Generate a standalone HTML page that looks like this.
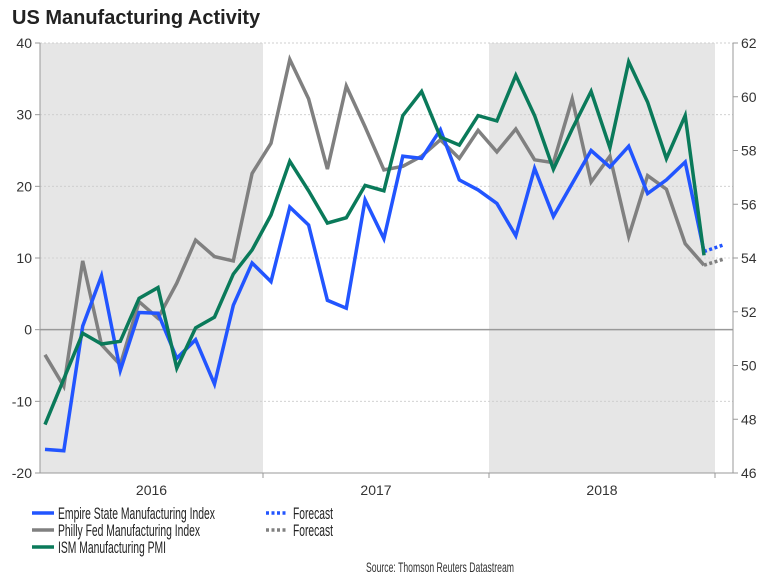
<!DOCTYPE html>
<html><head><meta charset="utf-8"><style>
body{margin:0;background:#fff;}
svg{display:block;font-family:"Liberation Sans",Arial,sans-serif;}
</style></head><body>
<svg id="c" width="768" height="576" viewBox="0 0 768 576">
<text x="12" y="24" font-size="20" font-weight="bold" fill="#222">US Manufacturing Activity</text>
<g id="bands"></g><g id="grid"></g><g id="axes"></g><g id="series"></g>
<g>
<line x1="32" y1="513" x2="54" y2="513" stroke="#2255ff" stroke-width="3.5"/>
<text x="58" y="519" font-size="17" fill="#222" textLength="157" lengthAdjust="spacingAndGlyphs">Empire State Manufacturing Index</text>
<line x1="32" y1="530" x2="54" y2="530" stroke="#808080" stroke-width="3.5"/>
<text x="58" y="536" font-size="17" fill="#222" textLength="142" lengthAdjust="spacingAndGlyphs">Philly Fed Manufacturing Index</text>
<line x1="32" y1="547" x2="54" y2="547" stroke="#0a7a5a" stroke-width="3.5"/>
<text x="58" y="553" font-size="17" fill="#222" textLength="108" lengthAdjust="spacingAndGlyphs">ISM Manufacturing PMI</text>
<line x1="266" y1="513" x2="288" y2="513" stroke="#2255ff" stroke-width="3.5" stroke-dasharray="3,2.5"/>
<text x="293" y="519" font-size="17" fill="#222" textLength="40" lengthAdjust="spacingAndGlyphs">Forecast</text>
<line x1="266" y1="530" x2="288" y2="530" stroke="#808080" stroke-width="3.5" stroke-dasharray="3,2.5"/>
<text x="293" y="536" font-size="17" fill="#222" textLength="40" lengthAdjust="spacingAndGlyphs">Forecast</text>
</g>
<text x="514" y="572" font-size="14" fill="#333" text-anchor="end" textLength="148" lengthAdjust="spacingAndGlyphs">Source: Thomson Reuters Datastream</text>
</svg>
<script>
const empire=[-16.7,-16.9,0.5,7.5,-5.7,2.4,2.3,-4.0,-1.4,-7.6,3.4,9.3,6.7,17.1,14.6,4.1,3.0,18.1,12.7,24.2,23.9,27.9,20.9,19.5,17.6,13.1,22.5,15.8,20.4,25.0,22.7,25.6,19.0,20.9,23.4,10.9];
const philly=[-3.5,-7.9,9.6,-2.1,-4.9,3.9,1.6,6.5,12.5,10.2,9.6,21.8,26.0,37.7,32.2,22.4,34.0,28.3,22.3,22.8,24.2,26.5,23.9,27.8,24.8,28.0,23.7,23.3,32.2,20.6,24.2,13.0,21.5,19.6,12.0,9.0];
const ism=[47.8,49.5,51.2,50.8,50.9,52.5,52.9,49.9,51.4,51.8,53.4,54.3,55.6,57.6,56.5,55.3,55.5,56.7,56.5,59.3,60.2,58.5,58.2,59.3,59.1,60.8,59.3,57.3,58.8,60.2,58.1,61.3,59.8,57.7,59.3,54.1];
const empireForecast=[10.9,11.8];
const phillyForecast=[9.0,9.8];
const leftTicks=[-20,-10,0,10,20,30,40];
const rightTicks=[46,48,50,52,54,56,58,60,62];
const years=["2016","2017","2018"];
const NS="http://www.w3.org/2000/svg";
const X0=40,X1=733,Y0=43,Y1=473;
const xm=i=>45+i*18.83;
const yl=v=>Y1-(v+20)/60*(Y1-Y0);
const yr=v=>Y1-(v-46)/16*(Y1-Y0);
function mk(p,t,a){const e=document.createElementNS(NS,t);for(const k in a)e.setAttribute(k,a[k]);document.getElementById(p).appendChild(e);return e;}
const yb=i=>i===0?40:37+i*226;
years.forEach((y,i)=>{
  if(i!==1){const r=mk('bands','rect',{x:yb(i),y:Y0,width:yb(i+1)-yb(i),height:Y1-Y0,fill:'#e6e6e6'});
  
  }
  const t=mk('axes','text',{x:(yb(i)+yb(i+1))/2,y:495,'font-size':14,fill:'#333','text-anchor':'middle'});t.textContent=y;
  
  
});
[1,2,3].forEach(i=>{mk('axes','line',{x1:yb(i),y1:Y1,x2:yb(i),y2:Y1+5,stroke:'#999'});});
leftTicks.forEach(v=>{
  if(v!==0&&v!==-20)mk('grid','line',{x1:X0,y1:yl(v),x2:X1,y2:yl(v),stroke:'#ccc','stroke-dasharray':'2,2','stroke-width':0.8});
  mk('axes','line',{x1:X0-5,y1:yl(v),x2:X0,y2:yl(v),stroke:'#999'});
  const t=mk('axes','text',{x:X0-8,y:yl(v)+5,'font-size':14,fill:'#333','text-anchor':'end'});t.textContent=v;
  
  
});
rightTicks.forEach(v=>{
  mk('axes','line',{x1:X1,y1:yr(v),x2:X1+5,y2:yr(v),stroke:'#999'});
  const t=mk('axes','text',{x:X1+8,y:yr(v)+5,'font-size':14,fill:'#333'});t.textContent=v;
  
  
});
mk('grid','line',{x1:X0,y1:Y0,x2:X1,y2:Y0,stroke:'#ccc','stroke-dasharray':'2,2','stroke-width':0.8});
mk('axes','line',{x1:X0,y1:yl(0),x2:X1,y2:yl(0),stroke:'#999','stroke-width':1.5});
mk('axes','line',{x1:X0,y1:Y0,x2:X0,y2:Y1,stroke:'#999'});
mk('axes','line',{x1:X1,y1:Y0,x2:X1,y2:Y1,stroke:'#999'});
mk('axes','line',{x1:X0,y1:Y1,x2:X1,y2:Y1,stroke:'#999'});
function line(d,f,col,name,off,dash){
  const pts=d.map((v,i)=>xm(i+off).toFixed(1)+','+f(v).toFixed(1)).join(' ');
  const a={points:pts,fill:'none',stroke:col,'stroke-width':3.5,'stroke-linejoin':'miter'};
  if(dash)a['stroke-dasharray']='3,2.5';
  const p=mk('series','polyline',a);
  
  
}
line(philly,yl,'#808080','philly-fed-line',0);
line(phillyForecast,yl,'#808080','philly-fed-forecast',35,true);
line(empire,yl,'#2255ff','empire-state-line',0);
line(empireForecast,yl,'#2255ff','empire-state-forecast',35,true);
line(ism,yr,'#0a7a5a','ism-pmi-line',0);
</script>
</body></html>
